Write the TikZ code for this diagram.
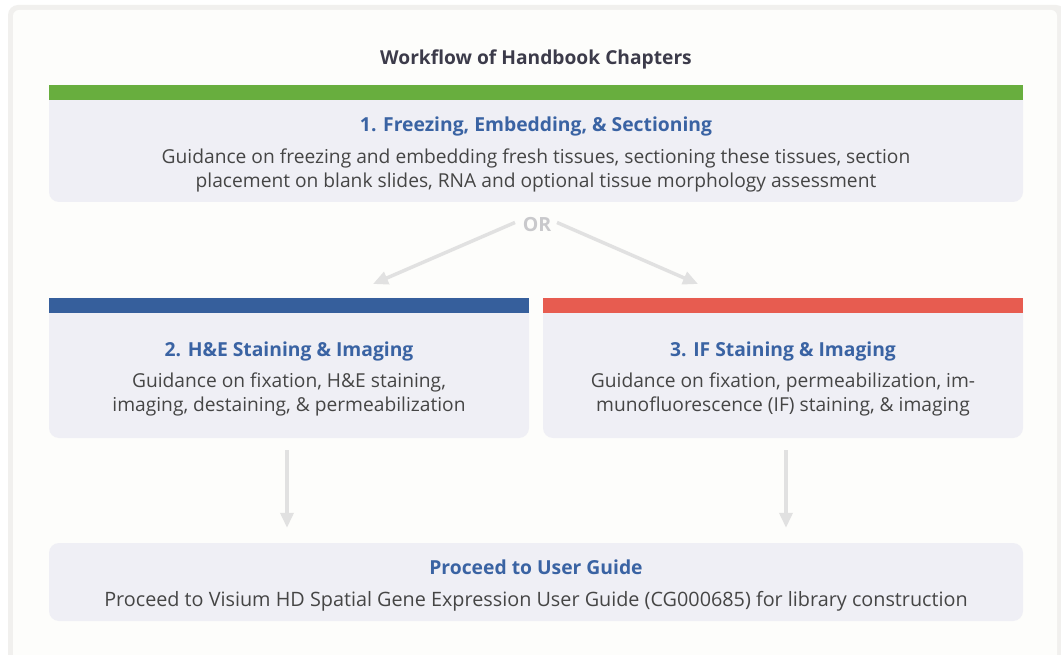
\documentclass[tikz,border=0pt]{standalone}
\usepackage{fontspec}
\setmainfont{Open Sans}
\usetikzlibrary{arrows.meta}
\definecolor{framegray}{HTML}{F1F0EE}
\definecolor{innerbg}{HTML}{FDFDFB}
\definecolor{boxfill}{HTML}{EFEFF5}
\definecolor{barGreen}{HTML}{68AE3E}
\definecolor{barBlue}{HTML}{365F9C}
\definecolor{barRed}{HTML}{E75C50}
\definecolor{titleBlue}{HTML}{3A63A3}
\definecolor{bodyGray}{HTML}{454545}
\definecolor{headGray}{HTML}{3C3B4A}
\definecolor{arrowGray}{HTML}{E1E1E1}
\definecolor{orGray}{HTML}{C9C9CC}
\tikzset{
  panel/.style={fill=boxfill, draw=none, rounded corners=10pt, inner sep=0pt, minimum width=#1},
  boxtitle/.style={font=\fontsize{19.3}{24}\selectfont\bfseries, text=titleBlue, inner sep=0pt, anchor=base},
  boxbody/.style={font=\fontsize{19.2}{24}\selectfont, text=bodyGray, inner sep=0pt, anchor=base, align=center},
  flowarrow/.style={draw=arrowGray, line width=3.5pt, -{Triangle[length=15pt,width=13pt]}},
}
\begin{document}
\begin{tikzpicture}[x=1pt,y=-1pt]
\useasboundingbox (0,0) rectangle (1061,655);
\fill[white] (0,0) rectangle (1061,655);
\fill[framegray, rounded corners=10pt] (8,5) rectangle (1066,720);
\fill[innerbg, rounded corners=6pt] (13,10) rectangle (1057,720);

\node[font=\fontsize{19.2}{20}\selectfont\bfseries, text=headGray, inner sep=0pt, anchor=base] (heading) at (536,64.5) {Workflow of Handbook Chapters};

% Box 1
\node[panel=974pt, minimum height=117pt] (box1) at (536,143.5) {};
\fill[barGreen] (box1.north west) rectangle ([yshift=-15pt]box1.north east);
\node[boxtitle] (t1) at (536,131.5) {1. Freezing, Embedding, \& Sectioning};
\node[boxbody, anchor=north] (b1) at (536,148.5) {Guidance on freezing and embedding fresh tissues, sectioning these tissues, section\\placement on blank slides, RNA and optional tissue morphology assessment};

% OR
\node[font=\fontsize{19.5}{20}\selectfont\bfseries, text=orGray, inner sep=0pt] (or) at (537,224.5) {OR};
\coordinate (leftTip) at (373,284);
\coordinate (rightTip) at (698,284);
\coordinate (leftStart) at (515,222.5);
\coordinate (rightStart) at (557,222.5);
\draw[flowarrow] (leftStart) -- (leftTip);
\draw[flowarrow] (rightStart) -- (rightTip);

% Box 2
\node[panel=480pt, minimum height=140pt] (box2) at (289,368) {};
\fill[barBlue] (box2.north west) rectangle ([yshift=-15pt]box2.north east);
\node[boxtitle] (t2) at (289,356.5) {2. H\&E Staining \& Imaging};
\node[boxbody, anchor=north] (b2) at (289,372.5) {Guidance on fixation, H\&E staining,\\imaging, destaining, \& permeabilization};

% Box 3
\node[panel=480pt, minimum height=140pt] (box3) at (783,368) {};
\fill[barRed] (box3.north west) rectangle ([yshift=-15pt]box3.north east);
\node[boxtitle] (t3) at (783,356.5) {3. IF Staining \& Imaging};
\node[boxbody, anchor=north] (b3) at (783,372.5) {Guidance on fixation, permeabilization, im-\\munofluorescence (IF) staining, \& imaging};

% Box 4
\node[panel=974pt, minimum height=78pt] (box4) at (536,582) {};
\node[boxtitle] (t4) at (536,574) {Proceed to User Guide};
\node[boxbody, font=\fontsize{19.8}{24}\selectfont] (b4) at (536,606) {Proceed to Visium HD Spatial Gene Expression User Guide (CG000685) for library construction};

% down arrows
\draw[flowarrow] ([xshift=-2pt,yshift=-12pt]box2.south) -- ([xshift=-2pt,yshift=15pt]box4.north -| box2.south);
\draw[flowarrow] ([xshift=3pt,yshift=-12pt]box3.south) -- ([xshift=3pt,yshift=15pt]box4.north -| box3.south);
\end{tikzpicture}
\end{document}
